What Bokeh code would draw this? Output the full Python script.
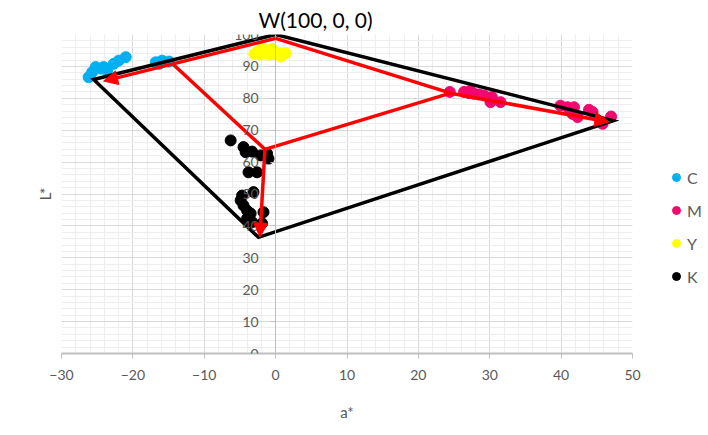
from bokeh.plotting import figure
from bokeh.models import (LinearAxis, SingleIntervalTicker, FixedTicker, Arrow, NormalHead,
                          ColumnDataSource, Legend, LegendItem)
from bokeh.embed import file_html
from bokeh.resources import INLINE

# ---- data (a*, L*) ----
C_A = [-26.2, -25.7, -25.2, -24.5, -24.1, -23.6, -22.7, -22.0, -21.0, -16.8, -16.3, -15.9, -14.9]
C_L = [86.6, 88.2, 89.8, 89.3, 89.8, 88.7, 90.8, 91.8, 92.9, 91.3, 90.8, 91.8, 91.5]

M_A = [24.4, 26.4, 27.1, 27.3, 27.8, 28.5, 29.2, 30.3, 30.1, 31.5,
       39.9, 40.9, 41.8, 41.6, 42.3, 43.9, 44.4, 45.8, 47.0]
M_L = [82.0, 82.0, 81.6, 82.4, 81.4, 81.2, 80.9, 80.4, 78.8, 78.8,
       77.7, 77.2, 77.2, 75.1, 74.1, 76.4, 75.7, 72.0, 74.3]

Y_A = [-3.0, -2.6, -2.1, -1.9, -1.2, -0.9, -0.5, -0.2, 0.5, 0.7, 1.4]
Y_L = [93.9, 94.5, 93.7, 95.5, 95.0, 93.7, 95.5, 93.9, 94.1, 93.1, 94.1]

K_A = [-6.3, -4.5, -4.2, -3.3, -2.1, -1.2, -1.0, -3.8, -2.6, -3.1,
       -4.7, -4.9, -4.5, -4.0, -3.5, -1.7, -4.0, -3.3, -1.9]
K_L = [66.8, 64.7, 63.1, 63.3, 62.1, 62.7, 61.1, 56.8, 56.8, 50.6,
       49.5, 48.0, 46.4, 44.8, 43.9, 44.3, 42.3, 41.2, 40.8]

# gamut outline W -> C -> K -> M -> W
GAMUT_A = [0.0, -25.5, -2.4, 47.3, 0.0]
GAMUT_L = [100.0, 85.9, 36.4, 73.0, 100.0]

# red connecting lines (no head)
SEG_A0 = [0.0, -14.3, -1.5]
SEG_L0 = [98.8, 90.5, 64.0]
SEG_A1 = [24.5, -1.5, 24.5]
SEG_L1 = [81.6, 64.0, 81.6]

# red arrows
ARR_A0 = [0.0, -1.5, 24.5]
ARR_L0 = [98.8, 64.0, 81.6]
ARR_A1 = [-24.1, -2.2, 46.7]
ARR_L1 = [85.4, 36.5, 72.6]

WHITE_TEXT = "W(100, 0, 0)"

X_TICK_STEP = 10
Y_TICK_STEP = 10

FONT = "Lato"
GREY = "#595959"

p = figure(frame_width=571, frame_height=319, x_range=(-30, 50), y_range=(0, 100),
           output_backend="svg", toolbar_location=None,
           min_border_left=61, min_border_top=34, min_border_bottom=82, min_border_right=76,
           background_fill_color="white", border_fill_color="white")
p.outline_line_color = None

# white point label as title above the W corner
p.title.text = WHITE_TEXT
p.title.align = "left"
p.title.offset = 197
p.title.standoff = 5
p.title.text_font = FONT
p.title.text_font_size = "21px"
p.title.text_font_style = "normal"
p.title.text_color = "#000000"

# grids
p.xgrid.ticker = SingleIntervalTicker(interval=X_TICK_STEP, num_minor_ticks=5)
p.ygrid.ticker = SingleIntervalTicker(interval=Y_TICK_STEP, num_minor_ticks=5)
for g in (p.xgrid, p.ygrid):
    g.grid_line_color = "#d9d9d9"
    g.grid_line_width = 1
    g.minor_grid_line_color = "#eeeeee"
    g.minor_grid_line_width = 1

# x axis
xa = p.xaxis[0]
xa.ticker = SingleIntervalTicker(interval=X_TICK_STEP, num_minor_ticks=0)
xa.axis_label = "a*"
xa.axis_label_text_font = FONT
xa.axis_label_text_font_size = "15px"
xa.axis_label_text_font_style = "normal"
xa.axis_label_text_color = GREY
xa.axis_label_standoff = 20
xa.major_label_text_font = FONT
xa.major_label_text_font_size = "14px"
xa.major_label_text_color = GREY
xa.major_label_standoff = 11
xa.axis_line_color = "#bfbfbf"
xa.axis_line_width = 2
xa.major_tick_line_color = "#bfbfbf"
xa.major_tick_out = 5
xa.major_tick_in = 0
xa.minor_tick_line_color = None

# default left axis only carries the title L*
ya = p.yaxis[0]
ya.ticker = FixedTicker(ticks=[])
ya.axis_line_color = None
ya.major_tick_out = 0
ya.major_tick_in = 0
ya.minor_tick_out = 0
ya.minor_tick_in = 0
ya.major_label_standoff = 0
ya.axis_label = "L*"
ya.axis_label_text_font = FONT
ya.axis_label_text_font_size = "15px"
ya.axis_label_text_font_style = "normal"
ya.axis_label_text_color = GREY
ya.axis_label_standoff = 8

# y axis crossing at a* = 0
y2 = LinearAxis(fixed_location=0, ticker=SingleIntervalTicker(interval=Y_TICK_STEP, num_minor_ticks=0))
y2.axis_line_color = "#bfbfbf"
y2.major_tick_line_color = "#bfbfbf"
y2.major_tick_out = 5
y2.major_tick_in = 0
y2.minor_tick_line_color = None
y2.major_label_text_font = FONT
y2.major_label_text_font_size = "14px"
y2.major_label_text_color = GREY
y2.major_label_standoff = 12
p.add_layout(y2, "left")

# points
rc = p.scatter(C_A, C_L, size=11, color="#00B0F0")
rm = p.scatter(M_A, M_L, size=11, color="#F2086E")
ry = p.scatter(Y_A, Y_L, size=11, color="#FFFF00")
rk = p.scatter(K_A, K_L, size=11, color="#000000")

# gamut outline
p.line(GAMUT_A, GAMUT_L, line_width=3.5, color="#000000", line_join="miter")

# red lines
p.segment(SEG_A0, SEG_L0, SEG_A1, SEG_L1, line_width=3.5, color="#FF0000")
arr_src = ColumnDataSource(dict(x0=ARR_A0, y0=ARR_L0, x1=ARR_A1, y1=ARR_L1))
p.add_layout(Arrow(end=NormalHead(size=14, fill_color="#FF0000", line_color="#FF0000", line_width=1),
                   x_start="x0", y_start="y0", x_end="x1", y_end="y1", source=arr_src,
                   line_color="#FF0000", line_width=3.5))

legend = Legend(items=[LegendItem(label="C", renderers=[rc]),
                       LegendItem(label="M", renderers=[rm]),
                       LegendItem(label="Y", renderers=[ry]),
                       LegendItem(label="K", renderers=[rk])],
                location=(34, 67), padding=5, spacing=13, margin=0,
                label_height=20, glyph_height=20, glyph_width=20, label_standoff=1,
                border_line_color=None, background_fill_alpha=0,
                label_text_font=FONT, label_text_font_size="16px", label_text_color=GREY)
p.add_layout(legend, "right")

open("out.html", "w").write(file_html(p, INLINE))
